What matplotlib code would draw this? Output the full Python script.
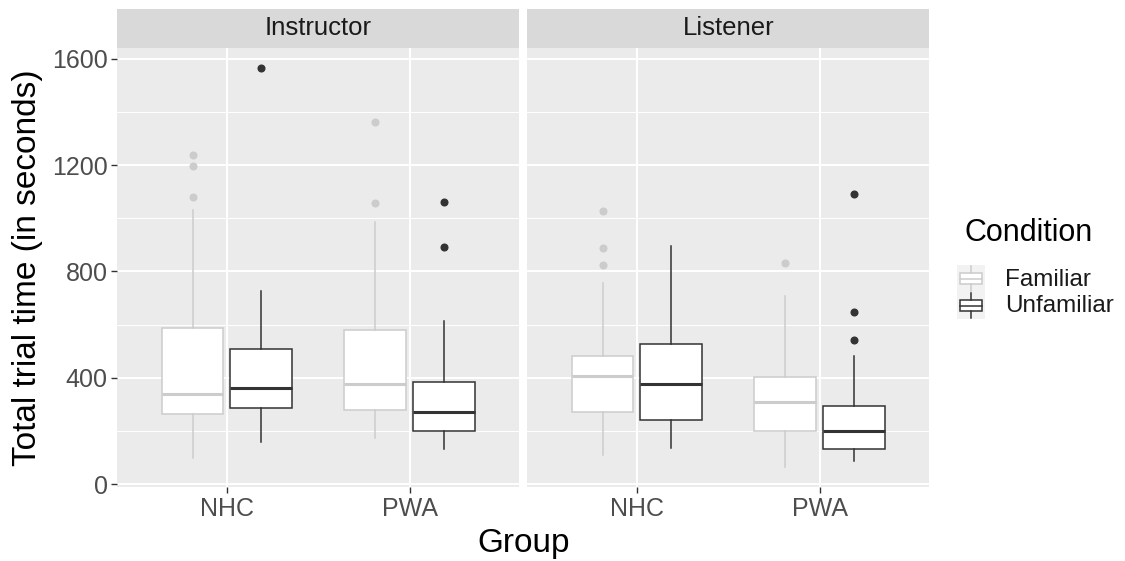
import matplotlib.pyplot as plt
from matplotlib.patches import Rectangle

plt.rcParams["font.family"] = ["Liberation Sans", "DejaVu Sans"]

# ---- data: five-number summaries + outliers per facet / group / condition ----
facets = ["Instructor", "Listener"]
groups = ["NHC", "PWA"]
conditions = ["Familiar", "Unfamiliar"]

# (whislo, q1, med, q3, whishi)
instr_nhc_fam = [97, 265, 339, 588, 1030]
instr_nhc_unf = [157, 285, 363, 509, 728]
instr_pwa_fam = [172, 280, 378, 579, 987]
instr_pwa_unf = [130, 198, 272, 384, 615]
list_nhc_fam = [111, 270, 406, 482, 756]
list_nhc_unf = [135, 242, 377, 528, 894]
list_pwa_fam = [64, 198, 308, 402, 709]
list_pwa_unf = [87, 131, 200, 292, 480]

instr_nhc_fam_out = [1238, 1196, 1081]
instr_nhc_unf_out = [1567]
instr_pwa_fam_out = [1362, 1057]
instr_pwa_unf_out = [1062, 891]
list_nhc_fam_out = [1028, 887, 823]
list_nhc_unf_out = []
list_pwa_fam_out = [832]
list_pwa_unf_out = [1090, 646, 542]

summaries = {
    "Instructor": [[instr_nhc_fam, instr_nhc_unf], [instr_pwa_fam, instr_pwa_unf]],
    "Listener": [[list_nhc_fam, list_nhc_unf], [list_pwa_fam, list_pwa_unf]],
}
outliers = {
    "Instructor": [[instr_nhc_fam_out, instr_nhc_unf_out], [instr_pwa_fam_out, instr_pwa_unf_out]],
    "Listener": [[list_nhc_fam_out, list_nhc_unf_out], [list_pwa_fam_out, list_pwa_unf_out]],
}

y_ticks = [0, 400, 800, 1200, 1600]
y_minor = [200, 600, 1000, 1400]

cond_colors = {"Familiar": "#CCCCCC", "Unfamiliar": "#333333"}
panel_bg = "#EBEBEB"
strip_bg = "#D9D9D9"
tick_col = "#4D4D4D"

# ggplot-style 5% expansion of the y range
all_vals = [v for f in facets for g in summaries[f] for s in g for v in s]
all_vals += [v for f in facets for g in outliers[f] for o in g for v in o]
lo, hi = min(all_vals), max(all_vals)
pad = 0.05 * (hi - lo)
ylim = (lo - pad, hi + pad)

fig = plt.figure(figsize=(11.25, 5.61), dpi=100)

W, H = 1125, 561
panel_left = [117.3, 527.3]
panel_w = 401.8
panel_top, panel_bot = 47.7, 487.0
strip_top = 9.0

dodge = 0.1875
box_w = 0.3375

for k, facet in enumerate(facets):
    ax = fig.add_axes([panel_left[k] / W, 1 - panel_bot / H,
                       panel_w / W, (panel_bot - panel_top) / H])
    ax.set_facecolor(panel_bg)
    for s in ax.spines.values():
        s.set_visible(False)
    ax.set_xlim(0.4, 2.6)
    ax.set_ylim(*ylim)

    for y in y_minor:
        ax.axhline(y, color="white", lw=0.7, zorder=0)
    for y in y_ticks:
        ax.axhline(y, color="white", lw=1.4, zorder=0)
    for x in (1, 2):
        ax.axvline(x, color="white", lw=1.4, zorder=0)

    for gi, grp in enumerate(groups):
        for ci, cond in enumerate(conditions):
            wl, q1, med, q3, wh = summaries[facet][gi][ci]
            stats = [dict(whislo=wl, q1=q1, med=med, q3=q3, whishi=wh,
                          fliers=outliers[facet][gi][ci])]
            pos = gi + 1 + (dodge if ci else -dodge)
            col = cond_colors[cond]
            ax.bxp(stats, positions=[pos], widths=box_w, patch_artist=True,
                   showcaps=False, manage_ticks=False,
                   boxprops=dict(facecolor="white", edgecolor=col, linewidth=1.1),
                   whiskerprops=dict(color=col, linewidth=1.1),
                   medianprops=dict(color=col, linewidth=2.2),
                   flierprops=dict(marker="o", markerfacecolor=col,
                                   markeredgecolor=col, markersize=4.8))

    ax.set_xticks([1, 2])
    ax.set_xticklabels(groups)
    ax.set_yticks(y_ticks)
    ax.tick_params(axis="both", colors="#333333", length=4, width=1.0,
                   labelcolor=tick_col, labelsize=18, pad=3)
    if k == 0:
        ax.set_yticklabels([str(v) for v in y_ticks])
    else:
        ax.tick_params(axis="y", length=0, labelleft=False)

    # facet strip
    sax = fig.add_axes([panel_left[k] / W, 1 - panel_top / H,
                        panel_w / W, (panel_top - strip_top) / H])
    sax.set_facecolor(strip_bg)
    sax.set_xticks([])
    sax.set_yticks([])
    for s in sax.spines.values():
        s.set_visible(False)
    sax.text(0.5, 0.5, facet, ha="center", va="center", fontsize=18.5,
             color="#1A1A1A", transform=sax.transAxes)

fig.text((panel_left[0] + panel_left[1] + panel_w) / 2 / W, 1 - 552 / H, "Group",
         ha="center", va="baseline", fontsize=24)
fig.text(28 / W, 1 - (panel_top + panel_bot) / 2 / H, "Total trial time (in seconds)",
         ha="center", va="center", rotation=90, fontsize=24)

# legend drawn as small key boxes
fig.text(965 / W, 1 - 233 / H, "Condition", ha="left", va="center", fontsize=22)
key_x0, key_w, key_h = 957, 28, 27
label_y = [280, 306]
for i, cond in enumerate(conditions):
    ky = 265 + i * 27
    kax = fig.add_axes([key_x0 / W, 1 - (ky + key_h) / H, key_w / W, key_h / H])
    kax.set_xlim(0, 1)
    kax.set_ylim(0, 1)
    kax.set_facecolor("#F2F2F2")
    kax.set_xticks([])
    kax.set_yticks([])
    for s in kax.spines.values():
        s.set_visible(False)
    col = cond_colors[cond]
    kax.plot([0.5, 0.5], [0.05, 0.3], color=col, lw=1.1)
    kax.plot([0.5, 0.5], [0.7, 0.95], color=col, lw=1.1)
    kax.add_patch(Rectangle((0.12, 0.3), 0.76, 0.4, facecolor="white",
                            edgecolor=col, lw=1.1))
    kax.plot([0.12, 0.88], [0.5, 0.5], color=col, lw=1.1)
    fig.text(1005 / W, 1 - label_y[i] / H, cond, ha="left", va="center",
             fontsize=17.5, color="#1A1A1A")

fig.savefig("out.png", dpi=100, facecolor="white")
